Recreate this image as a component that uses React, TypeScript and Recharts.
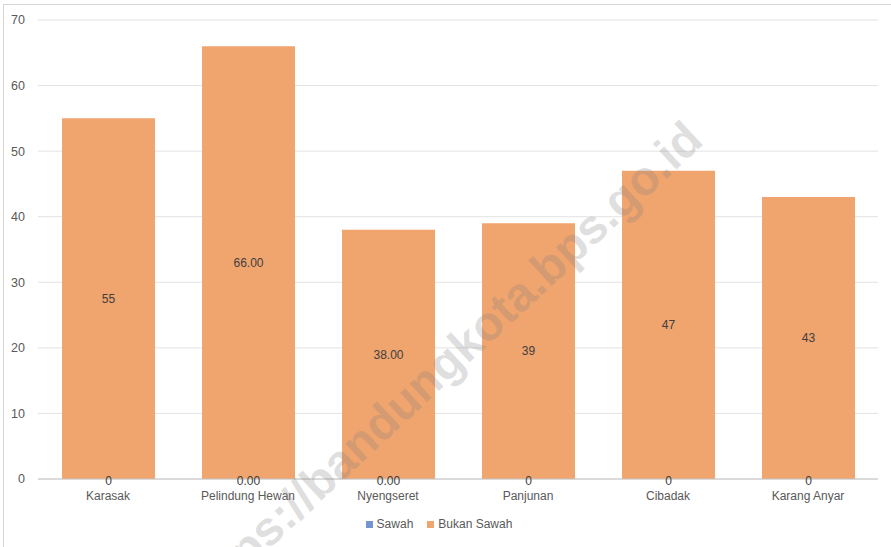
import { BarChart, Bar, XAxis, YAxis, CartesianGrid, Legend, LabelList } from "recharts";

const kelurahan = ["Karasak", "Pelindung Hewan", "Nyengseret", "Panjunan", "Cibadak", "Karang Anyar"];
const sawah = [0, 0, 0, 0, 0, 0];
const bukanSawah = [55, 66, 38, 39, 47, 43];
const sawahLabels = ["0", "0.00", "0.00", "0", "0", "0"];
const bukanSawahLabels = ["55", "66.00", "38.00", "39", "47", "43"];
const yTicks = [0, 10, 20, 30, 40, 50, 60, 70];

const data = kelurahan.map((name, i) => ({
  name,
  sawah: sawah[i],
  bukanSawah: bukanSawah[i],
  sawahLabel: sawahLabels[i],
  bukanSawahLabel: bukanSawahLabels[i],
}));

const FONT = "'Liberation Sans', Arial, sans-serif";

function LegendBox() {
  const items = [
    { label: "Sawah", color: "#7396D0" },
    { label: "Bukan Sawah", color: "#F0A46E" },
  ];
  return (
    <div
      style={{
        height: 30,
        display: "flex",
        justifyContent: "center",
        alignItems: "center",
        gap: 14,
        fontFamily: FONT,
        fontSize: 12,
        color: "#595959",
      }}
    >
      {items.map((it) => (
        <span key={it.label} style={{ display: "flex", alignItems: "center", gap: 4 }}>
          <span style={{ width: 7, height: 7, background: it.color, display: "inline-block" }} />
          {it.label}
        </span>
      ))}
    </div>
  );
}

export default function App() {
  return (
    <div
      style={{
        position: "absolute",
        left: 0,
        top: 0,
        width: 891,
        height: 547,
        overflow: "hidden",
        background: "#fff",
      }}
    >
      {/* outer frame of the exported chart */}
      <div
        style={{
          position: "absolute",
          left: 3,
          top: 4,
          width: 920,
          height: 580,
          borderLeft: "1px solid #d6d6d6",
          borderTop: "1px solid #d6d6d6",
        }}
      />

      <BarChart
        width={891}
        height={547}
        data={data}
        margin={{ top: 20, right: 13, bottom: 8, left: 0 }}
        style={{ fontFamily: FONT }}
      >
        <CartesianGrid vertical={false} stroke="#e3e3e3" />
        <XAxis
          dataKey="name"
          height={30}
          tickLine={false}
          axisLine={{ stroke: "#c4c4c4" }}
          tick={{ fill: "#595959", fontSize: 12 }}
          tickMargin={6}
        />
        <YAxis
          width={38}
          domain={[0, 70]}
          ticks={yTicks}
          axisLine={false}
          tickLine={false}
          tick={{ fill: "#595959", fontSize: 12.5 }}
          tickMargin={7}
        />
        <Legend verticalAlign="bottom" content={() => <LegendBox />} />
        <Bar dataKey="sawah" name="Sawah" stackId="a" fill="#7396D0" barSize={93} isAnimationActive={false} />
        <Bar dataKey="bukanSawah" name="Bukan Sawah" stackId="a" fill="#F0A46E" barSize={93} isAnimationActive={false}>
          <LabelList dataKey="bukanSawahLabel" position="center" fill="#404040" fontSize={12} />
          {/* the Sawah values are all 0, so their labels sit on the base of the stack */}
          <LabelList dataKey="sawahLabel" position="insideBottom" offset={-6} fill="#404040" fontSize={12} />
        </Bar>
      </BarChart>

      {/* site watermark */}
      <svg
        width={891}
        height={547}
        style={{ position: "absolute", left: 0, top: 0, pointerEvents: "none" }}
      >
        <text
          x={445}
          y={368}
          textAnchor="middle"
          dominantBaseline="middle"
          transform="rotate(-43 445 368)"
          fontFamily={FONT}
          fontWeight="bold"
          fontSize={48}
          fill="#808080"
          fillOpacity={0.25}
        >
          https://bandungkota.bps.go.id
        </text>
      </svg>
    </div>
  );
}
